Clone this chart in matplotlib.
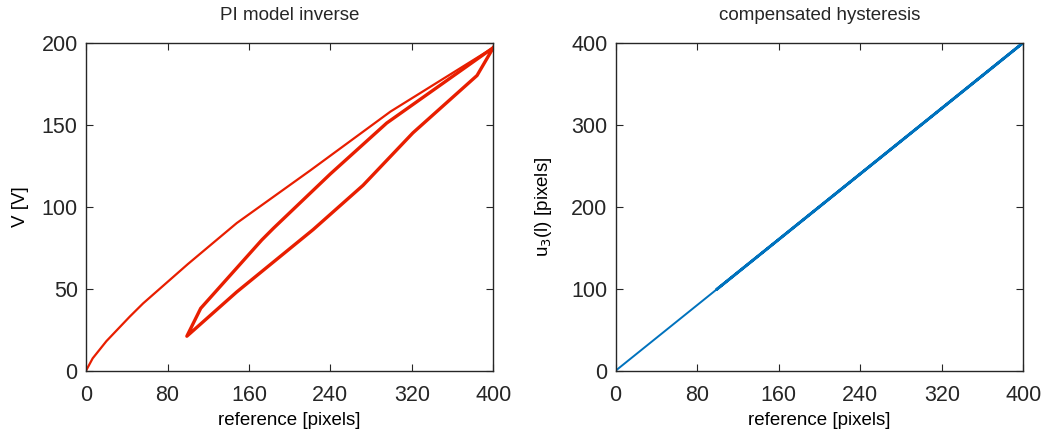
import matplotlib
matplotlib.use('Agg')
import matplotlib.pyplot as plt

plt.rcParams['font.family'] = ['Liberation Sans', 'DejaVu Sans']

# PI model inverse: initial loading curve (reference -> voltage)
ref_init = [0, 6.5, 20, 43, 56, 100, 148, 220, 299, 400]
v_init = [0, 7.5, 18, 33, 41, 65, 90, 122, 158, 197]

# hysteresis loop: descending then ascending branch
ref_loop = [400, 384, 321, 272, 223, 148, 99, 112.6, 172.6, 184, 240, 295.3, 400]
v_loop = [197, 180, 145, 113, 86, 48, 21, 38, 79.7, 86.8, 120, 151, 197]

# compensated hysteresis output
ref_comp_init = [0, 400]
u_comp_init = [0, 400]
ref_comp_loop = [400, 99, 400]
u_comp_loop = [400, 99, 400]

xticks = [0, 80, 160, 240, 320, 400]

fig = plt.figure(figsize=(10.43, 4.29), dpi=100)
ax1 = fig.add_axes([0.0825, 0.136, 0.3905, 0.7645])
ax2 = fig.add_axes([0.5903, 0.136, 0.3908, 0.7645])

red = '#e81e00'
blue = '#0072bd'

ax1.plot(ref_init, v_init, color=red, lw=1.6)
ax1.plot(ref_loop, v_loop, color=red, lw=2.4)
ax1.set_xlim(0, 400)
ax1.set_ylim(0, 200)
ax1.set_yticks([0, 50, 100, 150, 200])
ax1.set_title('PI model inverse', fontsize=13.5, color='#262626', pad=16)
ax1.set_ylabel('V [V]', fontsize=13.5, labelpad=9)

ax2.plot(ref_comp_init, u_comp_init, color=blue, lw=1.4)
ax2.plot(ref_comp_loop, u_comp_loop, color=blue, lw=2.0)
ax2.set_xlim(0, 400)
ax2.set_ylim(0, 400)
ax2.set_yticks([0, 100, 200, 300, 400])
ax2.set_title('compensated hysteresis', fontsize=13.5, color='#262626', pad=16)
ax2.set_ylabel('u$_3$(l) [pixels]', fontsize=13.5, labelpad=12)

for ax in (ax1, ax2):
    ax.set_xticks(xticks)
    ax.set_xlabel('reference [pixels]', fontsize=13.5, labelpad=5)
    ax.tick_params(direction='in', top=True, right=True, length=5,
                   labelsize=15.5, width=0.8, colors='#262626')
    ax.tick_params(axis='x', pad=10)
    ax.tick_params(axis='y', pad=6)
    for s in ax.spines.values():
        s.set_color('#262626')
        s.set_linewidth(1.0)

fig.savefig('out.png', dpi=100)
